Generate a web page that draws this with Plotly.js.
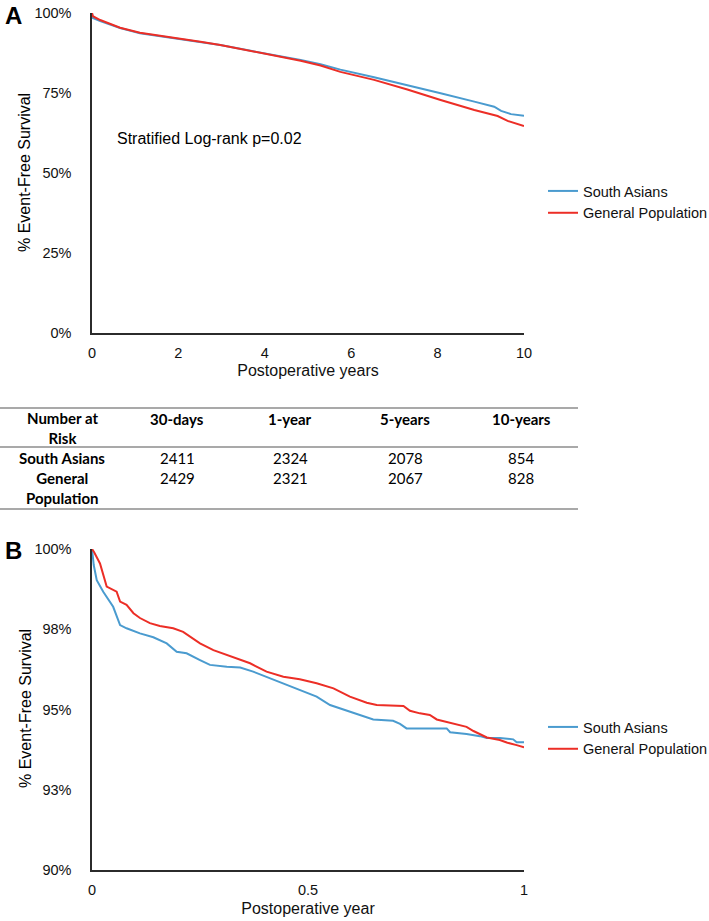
<!DOCTYPE html>
<html>
<head>
<meta charset="utf-8">
<script src="https://cdn.plot.ly/plotly-3.0.1.min.js"></script>
<style>
  body { margin: 0; background: #fff; }
  #chart { width: 709px; height: 921px; }
</style>
</head>
<body>
<div id="chart"></div>
<script>
// panel A: 10-year event-free survival (%)
var yearsA_sa = [0, 0.02, 0.19, 0.42, 0.65, 1.11, 1.58, 2.04, 2.51, 2.97, 3.43, 3.9, 4.36, 4.83, 5.29, 5.75, 6.53, 7.3, 8.07, 8.85, 9.31, 9.47, 9.7, 10];
var survA_sa  = [100, 98.4, 97.5, 96.4, 95.3, 93.7, 92.8, 92.0, 91.0, 90.0, 88.8, 87.7, 86.4, 85.3, 84.0, 82.3, 79.9, 77.5, 74.9, 72.3, 70.7, 69.4, 68.4, 67.9];
var yearsA_gp = [0, 0.02, 0.19, 0.42, 0.65, 1.11, 1.58, 2.04, 2.51, 2.97, 3.43, 3.9, 4.36, 4.83, 5.29, 5.75, 6.53, 7.3, 8.07, 8.85, 9.39, 9.62, 10];
var survA_gp  = [100, 99.0, 97.8, 96.6, 95.4, 93.8, 92.9, 92.1, 91.0, 90.0, 88.75, 87.6, 86.3, 85.1, 83.6, 81.6, 79.1, 76.1, 72.8, 69.7, 67.8, 66.3, 64.7];

// panel B: first year
var yearsB_sa = [0, 0.004, 0.011, 0.026, 0.049, 0.065, 0.080, 0.111, 0.142, 0.173, 0.196, 0.219, 0.250, 0.273, 0.312, 0.343, 0.373, 0.404, 0.443, 0.481, 0.520, 0.551, 0.597, 0.636, 0.651, 0.697, 0.713, 0.728, 0.821, 0.829, 0.867, 0.898, 0.914, 0.944, 0.975, 0.983, 1.0];
var survB_sa  = [100, 99.5, 99.03, 98.67, 98.20, 97.63, 97.53, 97.37, 97.25, 97.06, 96.80, 96.75, 96.54, 96.39, 96.33, 96.31, 96.18, 96.02, 95.82, 95.61, 95.40, 95.14, 94.93, 94.76, 94.69, 94.65, 94.55, 94.41, 94.41, 94.29, 94.24, 94.17, 94.11, 94.11, 94.07, 93.98, 93.98];
var yearsB_gp = [0, 0.005, 0.0185, 0.034, 0.057, 0.065, 0.080, 0.096, 0.111, 0.134, 0.157, 0.188, 0.211, 0.250, 0.281, 0.327, 0.366, 0.404, 0.443, 0.481, 0.520, 0.559, 0.597, 0.636, 0.659, 0.721, 0.736, 0.759, 0.782, 0.798, 0.821, 0.844, 0.867, 0.883, 0.914, 0.944, 0.960, 0.983, 1.0];
var survB_gp  = [100, 99.9, 99.55, 98.83, 98.67, 98.36, 98.26, 98.0, 97.85, 97.69, 97.60, 97.53, 97.42, 97.06, 96.85, 96.64, 96.44, 96.18, 96.02, 95.94, 95.82, 95.66, 95.40, 95.21, 95.14, 95.11, 94.96, 94.88, 94.83, 94.69, 94.61, 94.54, 94.46, 94.33, 94.13, 94.05, 93.97, 93.89, 93.82];

var groups = ["South Asians", "General Population"];

// tick labels
var ticksA_y = [0, 25, 50, 75, 100];
var labelsA_y = ["0%", "25%", "50%", "75%", "100%"];
var ticksB_y = [90, 92.5, 95, 97.5, 100];
var labelsB_y = ["90%", "93%", "95%", "98%", "100%"];
var ticksB_x = [0, 0.5, 1];
var labelsB_x = ["0", "0.5", "1"];

// number at risk table
var riskHeader = ["Number at<br>Risk", "30-days", "1-year", "5-years", "10-years"];
var riskRows = ["South Asians", "General<br>Population"];
var riskSA = [2411, 2324, 2078, 854];
var riskGP = [2429, 2321, 2067, 828];

var W = 709, H = 921;
var blue = '#4a9bcf', red = '#ec2e26';
var font = '"Liberation Sans", Arial, sans-serif';
var tableFont = 'Lato, "Open Sans", sans-serif';

function px(x) { return x / W; }
function py(y) { return 1 - y / H; }

var traces = [
  { x: yearsA_sa, y: survA_sa, name: groups[0], mode: 'lines', line: {color: blue, width: 2}, xaxis: 'x', yaxis: 'y', legend: 'legend' },
  { x: yearsA_gp, y: survA_gp, name: groups[1], mode: 'lines', line: {color: red, width: 2}, xaxis: 'x', yaxis: 'y', legend: 'legend' },
  { x: yearsB_sa, y: survB_sa, name: groups[0], mode: 'lines', line: {color: blue, width: 2}, xaxis: 'x2', yaxis: 'y2', legend: 'legend2' },
  { x: yearsB_gp, y: survB_gp, name: groups[1], mode: 'lines', line: {color: red, width: 2}, xaxis: 'x2', yaxis: 'y2', legend: 'legend2' }
];

var axisBase = {
  showline: true, linecolor: '#2b2b2b', linewidth: 1.6,
  showgrid: false, zeroline: false, ticks: '',
  tickfont: {family: font, size: 14.5, color: '#111'}
};

function ax(extra) { return Object.assign({}, axisBase, extra); }

function note(text, x, y, size, family, xanchor, angle) {
  return {text: text, x: px(x), y: py(y), xref: 'paper', yref: 'paper', showarrow: false, textangle: angle || 0,
    xanchor: xanchor || 'center', yanchor: 'middle', font: {family: family, size: size, color: '#000'}};
}

var annotations = [
  note('<b>A</b>', 13, 15, 24, font),
  note('<b>B</b>', 13, 550, 24, font),
  note('Stratified Log-rank p=0.02', 115, 138, 16, font, 'left'),
  // y axis titles
  note('% Event-Free Survival', 25, 173, 16, font, 'center', -90),
  note('% Event-Free Survival', 25, 709, 16, font, 'center', -90)
];

// table text
var colX = [62, 177, 290, 405, 521];
riskHeader.forEach(function (h, i) {
  annotations.push(note('<b>' + h + '</b>', colX[i], i === 0 ? 428 : 419, 15, tableFont));
});
annotations.push(note('<b>' + riskRows[0] + '</b>', colX[0], 458, 15, tableFont));
annotations.push(note('<b>' + riskRows[1] + '</b>', colX[0], 488, 15, tableFont));
riskSA.forEach(function (v, i) {
  annotations.push(note(String(v), colX[i + 1], 458, 15, tableFont));
});
riskGP.forEach(function (v, i) {
  annotations.push(note(String(v), colX[i + 1], 478, 15, tableFont));
});

var shapes = [408, 447, 509].map(function (y) {
  return {type: 'line', xref: 'paper', yref: 'paper', x0: 0, x1: px(578), y0: py(y), y1: py(y), line: {color: '#555', width: 1.2}};
});

var legendBase = {
  xanchor: 'left', yanchor: 'top', bgcolor: 'rgba(0,0,0,0)',
  font: {family: font, size: 14.5, color: '#111'}, tracegroupgap: 0
};

var titleFont = {family: font, size: 16, color: '#111'};

var layout = {
  width: W, height: H,
  margin: {l: 0, r: 0, t: 0, b: 0, autoexpand: false},
  paper_bgcolor: '#fff', plot_bgcolor: '#fff',
  font: {family: font},
  xaxis: ax({domain: [px(92), px(524)], range: [0, 10], dtick: 2, tick0: 0, anchor: 'y', ticklabelstandoff: 6,
    title: {text: 'Postoperative years', font: titleFont, standoff: 5}}),
  yaxis: ax({domain: [py(333), py(13)], range: [0, 100], tickvals: ticksA_y, ticktext: labelsA_y, anchor: 'x', ticklabelstandoff: 16}),
  xaxis2: ax({domain: [px(92), px(524)], range: [0, 1], tickvals: ticksB_x, ticktext: labelsB_x, anchor: 'y2', ticklabelstandoff: 6,
    title: {text: 'Postoperative year', font: titleFont, standoff: 6}}),
  yaxis2: ax({domain: [py(870), py(549)], range: [90, 100], tickvals: ticksB_y, ticktext: labelsB_y, anchor: 'x2', ticklabelstandoff: 16}),
  legend: Object.assign({x: px(543), y: py(175)}, legendBase),
  legend2: Object.assign({x: px(543), y: py(711)}, legendBase),
  annotations: annotations,
  shapes: shapes
};

Plotly.newPlot('chart', traces, layout, {displayModeBar: false, staticPlot: true});
</script>
</body>
</html>
